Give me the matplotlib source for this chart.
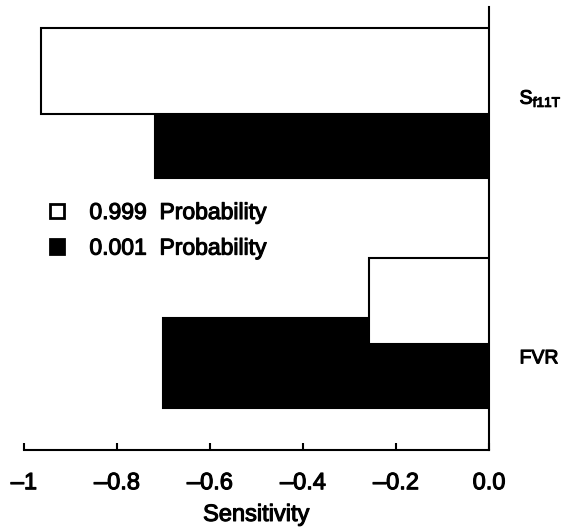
import numpy as np
import matplotlib.pyplot as plt
import matplotlib.patheffects as pe

plt.rcParams['font.family'] = ['Liberation Sans', 'DejaVu Sans']

# Data
categories = [r'$\mathregular{S_{f11T}}$', 'FVR']
p999 = [-0.964, -0.257]   # 0.999 probability (white bars)
p001 = [-0.719, -0.702]   # 0.001 probability (black bars)
xticks = [-1, -0.8, -0.6, -0.4, -0.2, 0.0]
xtick_labels = ['\u20131', '\u20130.8', '\u20130.6', '\u20130.4', '\u20130.2', '0.0']

# slightly heavier text, like the scanned original
thick = [pe.withStroke(linewidth=0.8, foreground='black')]

fig = plt.figure(figsize=(5.78, 5.29), dpi=100)
ax = fig.add_axes([24 / 578, 1 - 450 / 529, (489 - 24) / 578, (450 - 7) / 529])

pos = np.arange(len(categories))
# black bars sit a bit lower and are drawn behind the white ones
ax.barh(pos + 0.27, p001, height=0.39, color='black', edgecolor='black',
        linewidth=1.5, label='0.001  Probability', zorder=2)
ax.barh(pos, p999, height=0.374, color='white', edgecolor='black',
        linewidth=1.5, label='0.999  Probability', zorder=3)

ax.set_xlim(-1, 0)
ax.set_ylim(1.648, -0.278)

ax.spines['top'].set_visible(False)
ax.spines['left'].set_visible(False)
ax.spines['bottom'].set_linewidth(1.5)
ax.spines['right'].set_linewidth(1.5)

ax.set_xticks(xticks)
ax.set_xticklabels(xtick_labels, fontsize=17)
ax.tick_params(axis='x', direction='in', length=5, width=1.5, pad=16)

# category labels to the right of the zero line
ax.yaxis.tick_right()
ax.set_yticks([0.11, 1.243])
ax.set_yticklabels(categories, fontsize=14)
ax.tick_params(axis='y', length=0, pad=22)

ax.set_xlabel('Sensitivity', fontsize=17, labelpad=7)

handles, labels = ax.get_legend_handles_labels()
leg = ax.legend(handles[::-1], labels[::-1], loc='upper left',
                bbox_to_anchor=(50 / 578, 1 - 201 / 529), bbox_transform=fig.transFigure,
                frameon=False, fontsize=16.5, handlelength=0.62, handleheight=0.62,
                handletextpad=1.1, labelspacing=0.55, borderpad=0, borderaxespad=0)
for h in leg.legend_handles:
    h.set_linewidth(2)

for t in ax.get_xticklabels() + ax.get_yticklabels() + leg.get_texts() + [ax.xaxis.label]:
    t.set_path_effects(thick)

fig.savefig('out.png', dpi=100)
